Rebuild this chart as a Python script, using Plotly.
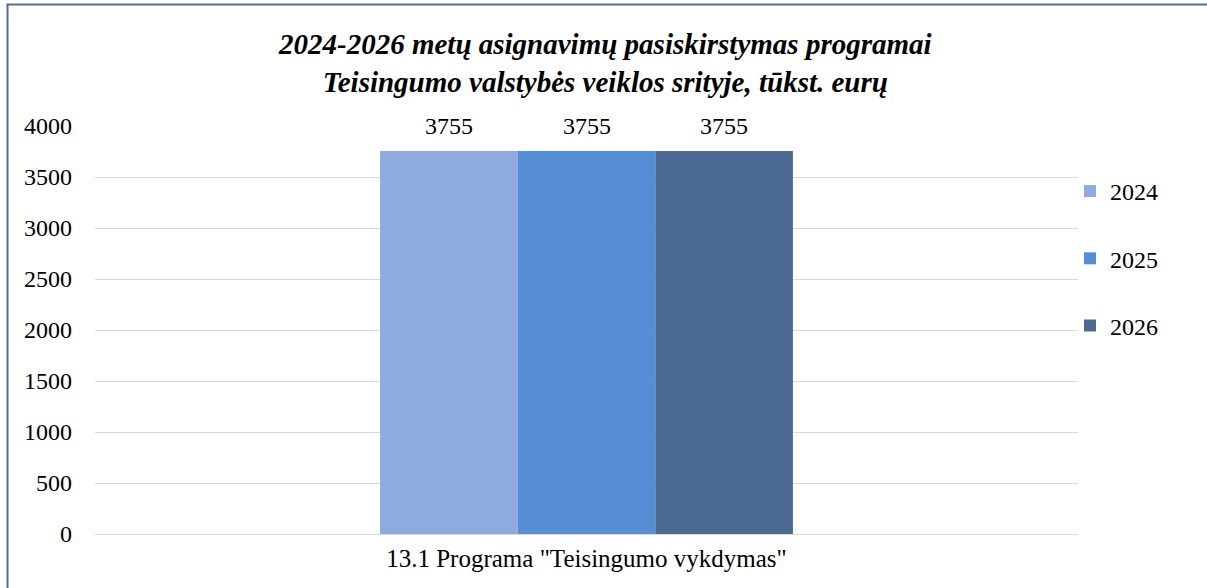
import plotly.graph_objects as go

categories = ['13.1 Programa "Teisingumo vykdymas"']
years = ["2024", "2025", "2026"]
values = {"2024": [3755], "2025": [3755], "2026": [3755]}
colors = {"2024": "#8FAADC", "2025": "#558ED5", "2026": "#4D6A92"}
tick_vals = [0, 500, 1000, 1500, 2000, 2500, 3000, 3500, 4000]
title_lines = ["2024-2026 metų asignavimų pasiskirstymas programai",
               "Teisingumo valstybės veiklos srityje, tūkst. eurų"]

W, H = 1207, 588
ML, MR, MT, MB = 95, 129, 126, 54
BARGAP = 0.58
FONT = "Liberation Serif"

fig = go.Figure()
for yr in years:
    fig.add_trace(go.Bar(
        x=categories, y=values[yr], name=yr,
        marker=dict(color=colors[yr], line=dict(width=0)),
        legendgroup=yr,
    ))

# data labels above bars
n = len(years)
bw = (1 - BARGAP) / n
annotations = []
for i, yr in enumerate(years):
    for ci, v in enumerate(values[yr]):
        annotations.append(dict(
            x=ci - (1 - BARGAP) / 2 + bw * (i + 0.5), y=v, xref="x", yref="y",
            text=str(v), showarrow=False, yanchor="middle", yshift=25,
            font=dict(family=FONT, size=24, color="#000000"),
        ))

pw = W - ML - MR
ph = H - MT - MB

def px_to_paper_y(py):
    return (H - MB - py) / ph

def px_to_paper_x(pxv):
    return (pxv - ML) / pw

annotations.append(dict(
    x=px_to_paper_x(605), y=px_to_paper_y(63), xref="paper", yref="paper",
    text="<b><i>" + "<br>".join(title_lines) + "</i></b>", showarrow=False,
    xanchor="center", yanchor="middle", align="center",
    font=dict(family=FONT, size=29, color="#000000"),
))

fig.update_layout(
    width=W, height=H,
    margin=dict(l=ML, r=MR, t=MT, b=MB, pad=0),
    paper_bgcolor="white", plot_bgcolor="white",
    barmode="group", bargap=BARGAP, bargroupgap=0,
    font=dict(family=FONT, size=24, color="#000000"),
    showlegend=True,
    legend=dict(
        x=px_to_paper_x(1070), xanchor="left", y=px_to_paper_y(169), yanchor="top",
        font=dict(family=FONT, size=24, color="#000000"),
        tracegroupgap=33, traceorder="grouped", itemwidth=30,
        bgcolor="rgba(0,0,0,0)",
    ),
    yaxis=dict(
        range=[0, 4000], tickvals=tick_vals, showgrid=True, gridcolor="#D9D9D9", gridwidth=1,
        zeroline=True, zerolinecolor="#D9D9D9", zerolinewidth=1, showline=False,
        ticks="", ticklabelstandoff=22,
        tickfont=dict(family=FONT, size=24, color="#000000"),
    ),
    xaxis=dict(
        showgrid=False, showline=False, ticks="", ticklabelstandoff=7,
        tickfont=dict(family=FONT, size=25, color="#000000"),
    ),
    annotations=annotations,
    shapes=[dict(
        type="rect", xref="paper", yref="paper",
        x0=px_to_paper_x(7.5), x1=px_to_paper_x(W + 20),
        y0=px_to_paper_y(H + 20), y1=px_to_paper_y(4.5),
        line=dict(color="#4F6E9B", width=2), fillcolor="rgba(0,0,0,0)", layer="above",
    )],
)

fig.write_html(
    "out.html",
    config={"displayModeBar": False},
    post_script="document.body.style.margin='0';document.body.style.overflow='hidden';",
)
